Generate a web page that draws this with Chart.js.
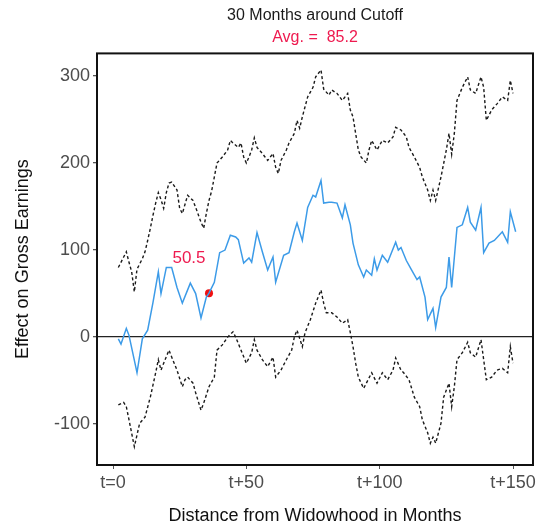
<!DOCTYPE html>
<html>
<head>
<meta charset="utf-8">
<script src="https://cdn.jsdelivr.net/npm/chart.js@4.4.1/dist/chart.umd.min.js"></script>
<style>
  html, body { margin: 0; padding: 0; background: #fff; }
  #wrap { width: 540px; height: 531px; }
</style>
</head>
<body>
<div id="wrap"><canvas id="chart"></canvas></div>
<script>
// point estimate (blue line)
const effectMonths = [2,3,5,6,9,11,13,15,17,18,20,22,24,26,29,31,33,35,36,38,40,42,44,46,47,49,51,52,54,56,58,60,61,64,66,68,69,71,73,75,76,78,79,81,82,84,86,87,89,90,92,94,95,97,98,99,101,103,106,107,108,110,112,114,115,117,118,120,121,123,125,126,127,129,131,133,134,136,138,139,141,143,146,148,149,151];
const effect = [-2,-8,10,2,-41,-2,8,40,75,50,80,80,57,39,62,50,22,46,50.5,63,97,100,117,115,112,85,91,86,120,98,77,92,63,94,97,121,131,111,149,163,161,180,154,155,155,154,137,152,129,108,83,69,77,71,90,77,94,86,109,100,103,88,77,66,69,46,20,33,11,46,57,92,57,126,129,149,132,123,149,97,108,111,121,109,144,121];

// confidence bands (dashed)
const upperMonths = [2,4,5,6,7,8,9,11,12,13,14,15,16,17,18,19,20,21,22,24,25,26,28,30,31,33,34,35,36,37,39,41,43,44,45,47,48,49,50,51,52,53,54,56,57,58,60,61,62,63,65,66,68,69,70,71,73,75,76,78,79,81,82,84,86,88,89,90,91,92,93,95,96,97,99,101,103,105,106,108,110,111,113,115,116,118,119,120,121,123,125,126,127,128,129,131,133,134,136,138,139,140,142,144,146,148,149,150];
const upper = [80,92,98,86,75,52,78,90,98,111,125,140,154,166,158,148,166,177,178,169,148,142,163,157,149,132,125,142,157,168,200,207,215,226,223,218,223,207,200,207,215,229,218,211,207,203,211,195,188,203,215,223,234,249,240,253,276,287,299,307,285,278,284,280,272,280,261,253,234,215,207,200,215,226,215,226,223,230,241,238,230,218,207,195,184,169,157,169,157,184,215,234,210,234,272,287,299,284,280,299,287,249,261,268,276,272,295,280];

const lowerMonths = [2,4,5,6,8,10,12,14,16,17,18,19,21,22,24,26,27,28,30,31,33,34,36,38,39,41,43,45,46,48,50,52,53,54,56,58,60,61,63,65,67,68,69,71,72,74,76,78,79,80,82,84,86,88,89,90,91,92,94,95,97,99,101,103,105,106,108,109,111,113,115,116,118,119,120,121,123,124,126,127,128,129,131,133,134,136,138,139,140,142,144,146,148,149,150];
const lower = [-78,-75,-80,-95,-126,-99,-92,-69,-41,-26,-38,-30,-15,-23,-38,-57,-49,-46,-53,-64,-84,-76,-57,-46,-15,-9,0,6,0,-15,-30,-18,-3,-15,-26,-34,-23,-46,-38,-26,-15,0,8,-11,5,20,39,54,39,28,28,23,16,20,5,-11,-30,-46,-59,-53,-41,-53,-41,-49,-38,-24,-38,-41,-49,-69,-80,-95,-110,-122,-115,-122,-99,-69,-53,-80,-57,-26,-18,-6,-18,-23,-3,-26,-49,-46,-38,-36,-41,-11,-30];

// highlighted point and its label
const markMonth = 36;
const markValue = 50.5;
const markLabelMonth = 28.5;
const markLabelValue = 90;

const xTicks = [0, 50, 100, 150];
const yTicks = [-100, 0, 100, 200, 300];
const titleText = "30 Months around Cutoff";
const subtitleText = "Avg. =  85.2";

const FONT = "'Liberation Sans', Arial, Helvetica, sans-serif";
const RED = "#ee1a4f";

const toPoints = (xs, ys) => xs.map((m, i) => ({ x: m, y: ys[i] }));

// box around the plot area + red label
const framePlugin = {
  id: "frame",
  afterDraw(chart) {
    const { ctx, chartArea: a, scales } = chart;
    ctx.save();
    ctx.strokeStyle = "#111";
    ctx.lineWidth = 2;
    ctx.strokeRect(a.left, a.top, a.right - a.left, a.bottom - a.top);
    ctx.fillStyle = RED;
    ctx.font = "17px " + FONT;
    ctx.textAlign = "center";
    ctx.textBaseline = "middle";
    ctx.fillText(String(markValue), scales.x.getPixelForValue(markLabelMonth), scales.y.getPixelForValue(markLabelValue));
    ctx.restore();
  }
};

new Chart(document.getElementById("chart"), {
  type: "line",
  data: {
    datasets: [
      {
        data: toPoints(upperMonths, upper),
        borderColor: "#1a1a1a",
        borderWidth: 1.4,
        borderDash: [3, 2.5],
        pointRadius: 0,
        tension: 0
      },
      {
        data: toPoints(lowerMonths, lower),
        borderColor: "#1a1a1a",
        borderWidth: 1.4,
        borderDash: [3, 2.5],
        pointRadius: 0,
        tension: 0
      },
      {
        data: toPoints(effectMonths, effect),
        borderColor: "#3c9be8",
        borderWidth: 1.5,
        pointRadius: 0,
        tension: 0
      },
      {
        data: [{ x: markMonth, y: markValue }],
        showLine: false,
        pointRadius: 4,
        pointBackgroundColor: "#f01010",
        pointBorderWidth: 0
      }
    ]
  },
  options: {
    responsive: true,
    maintainAspectRatio: false,
    animation: false,
    layout: { padding: { left: 0, right: 7, top: 0, bottom: 0 } },
    plugins: {
      legend: { display: false },
      tooltip: { enabled: false },
      title: {
        display: true,
        text: titleText,
        fullSize: false,
        color: "#1a1a1a",
        font: { family: FONT, size: 16, weight: "normal" },
        padding: { top: 6, bottom: 2 }
      },
      subtitle: {
        display: true,
        text: subtitleText,
        fullSize: false,
        color: RED,
        font: { family: FONT, size: 16, weight: "normal" },
        padding: { top: 1, bottom: 6 }
      }
    },
    scales: {
      x: {
        type: "linear",
        min: -6,
        max: 157.5,
        afterBuildTicks: s => { s.ticks = xTicks.map(v => ({ value: v })); },
        afterFit: s => { s.height = 66; },
        ticks: {
          color: "#4d4d4d",
          font: { family: FONT, size: 18 },
          padding: 3,
          maxRotation: 0,
          callback: v => (v === 0 ? "t=0" : "t+" + v)
        },
        grid: { drawOnChartArea: false, tickLength: 4, tickColor: "#555" },
        border: { display: false },
        title: {
          display: true,
          text: "Distance from Widowhood in Months",
          color: "#111",
          font: { family: FONT, size: 18 },
          padding: { top: 0, bottom: 4 }
        }
      },
      y: {
        min: -147,
        max: 326,
        afterBuildTicks: s => { s.ticks = yTicks.map(v => ({ value: v })); },
        afterFit: s => { s.width = 97; },
        ticks: {
          color: "#4d4d4d",
          font: { family: FONT, size: 18 },
          padding: 3
        },
        grid: {
          color: c => (c.tick && c.tick.value === 0 ? "#222" : "rgba(0,0,0,0)"),
          lineWidth: 1.3,
          tickLength: 4,
          tickColor: "#555"
        },
        border: { display: false },
        title: {
          display: true,
          text: "Effect on Gross Earnings",
          color: "#111",
          font: { family: FONT, size: 18 },
          padding: { top: 12, bottom: 0 }
        }
      }
    }
  },
  plugins: [framePlugin]
});
</script>
</body>
</html>
